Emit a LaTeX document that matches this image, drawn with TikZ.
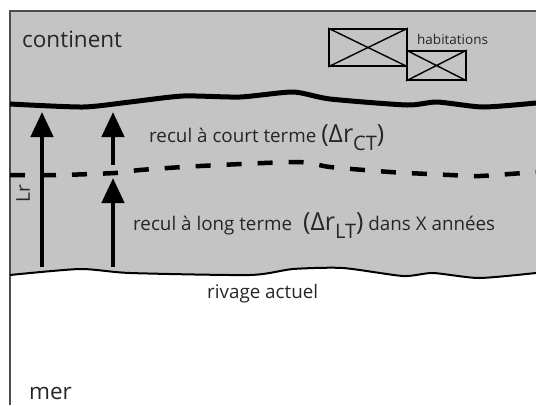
\documentclass[tikz,border=0pt]{standalone}
\usepackage{fontspec}
\setmainfont{Open Sans}
\usetikzlibrary{arrows.meta}
\definecolor{landgrey}{RGB}{196,196,196}
\def\bigsym#1{{\fontsize{25}{25}\selectfont #1}}
\def\lowsub#1{\raisebox{-8pt}{\fontsize{20}{20}\selectfont #1}}

\begin{document}
\begin{tikzpicture}[x=1pt,y=-1pt,
  lbl/.style={inner sep=0pt,text=black!85,font=\fontsize{18.8}{20}\selectfont},
  retreat/.style={line width=4.5pt,-{Triangle[width=22pt,length=25pt]}},
  house/.style={draw,line width=1.8pt,inner sep=0pt}]
\useasboundingbox (0,0) rectangle (536,405);
\fill[landgrey] (10,11) -- (536,11) -- plot[smooth,tension=0.4] coordinates {(536,273) (479,278) (433,273) (403,276) (343,268) (293,269) (250,275) (130,273) (80,269) (10,275)} -- cycle;
\draw[line width=1.5pt,black!70] (10,405) -- (10,11) -- (536,11);
\draw[line width=5pt] plot[smooth,tension=0.4] coordinates {(10,104) (83,107) (130,102) (183,96) (240,97) (293,92) (330,99) (407,105) (437,102) (483,107) (536,103)};
\draw[line width=4.5pt,dash pattern=on 15pt off 16pt] plot[smooth,tension=0.4] coordinates {(10,175) (60,175) (115,173) (140,170) (200,166) (297,162) (330,167) (390,172) (450,175) (480,176) (536,172)};
\draw[line width=2pt] plot[smooth,tension=0.4] coordinates {(10,275) (80,269) (130,273) (250,275) (293,269) (343,268) (403,276) (433,273) (479,278) (536,273)};
\node[house,minimum width=78pt,minimum height=37pt] (h1) at (368,47.5) {};
\node[house,minimum width=59pt,minimum height=29pt] (h2) at (436.5,65.5) {};
\draw[line width=1.4pt] (h1.north west) -- (h1.south east) (h1.south west) -- (h1.north east);
\draw[line width=1.4pt] (h2.north west) -- (h2.south east) (h2.south west) -- (h2.north east);
\coordinate (lrbase) at (42,267);
\coordinate (lrtop) at (42,112);
\coordinate (ltbase) at (113,267);
\coordinate (lttop) at (113,178);
\coordinate (ctbase) at (113,165);
\coordinate (cttop) at (113,112);
\draw[retreat] (lrbase) -- (lrtop);
\draw[retreat] (ltbase) -- (lttop);
\draw[retreat] (ctbase) -- (cttop);
\node[lbl,anchor=base west,font=\fontsize{22.5}{24}\selectfont] (continent) at (22,47) {continent};
\node[lbl,anchor=base west,font=\fontsize{13.5}{14}\selectfont] (habitations) at (417,44) {habitations};
\node[lbl,anchor=base west] (ct) at (149,142) {recul à court terme \bigsym{(Δr}\lowsub{CT}\bigsym{)}};
\node[lbl,anchor=base west] (lt) at (133,230) {recul à long terme\hspace{11pt}\bigsym{(Δr}\lowsub{LT}\bigsym{)} dans X années};
\node[lbl,anchor=base west] (rivage) at (207,298) {rivage actuel};
\node[lbl,anchor=base west,font=\fontsize{22.5}{24}\selectfont] (mer) at (29,399) {mer};
\node[lbl,anchor=base west,rotate=90,font=\fontsize{19}{19}\selectfont] (lr) at (30,203) {Lr};
\end{tikzpicture}
\end{document}
